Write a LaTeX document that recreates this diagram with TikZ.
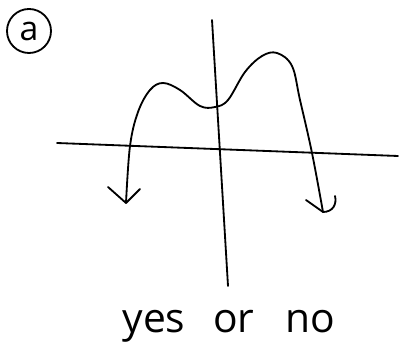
\documentclass[tikz,border=0pt]{standalone}
\usepackage{fontspec}
\setmainfont{Open Sans}
\usetikzlibrary{calc}
\begin{document}
\begin{tikzpicture}[x=0.025cm, y=-0.025cm, line width=1.3pt, line cap=round, line join=round]
	\useasboundingbox (0,0) rectangle (400,352);
	% axes
	\coordinate (XL) at (57,143);
	\coordinate (XR) at (398,156);
	\coordinate (YT) at (212,20);
	\coordinate (YB) at (228,286);
	\draw (XL)--(XR);
	\draw (YT)--(YB);
	% curve with two humps
	\coordinate (L) at (126,203);
	\coordinate (R) at (323,212);
	\draw plot[smooth, tension=0.6] coordinates {(L) (130,146) (138,112) (150,90) (163,83) (180,90) (200,106) (215,107) (228,100) (245,72) (262,56) (277,53) (292,66) (300,100) (312,153) (R)};
	% hand drawn arrow ends
	\draw (108,187)--(L)--(140,189);
	\draw (306,200)--(R) .. controls (333,212) and (337,204) .. (335,196);
	% label
	\node[draw, circle, minimum size=1.1cm, inner sep=0pt, font=\fontsize{24}{24}\selectfont] (lbl) at (29,31) {a};
	\node[anchor=base, font=\fontsize{29}{30}\selectfont] (ans) at (229,333) {yes\hskip0.7cm or\hskip0.78cm no};
\end{tikzpicture}
\end{document}
